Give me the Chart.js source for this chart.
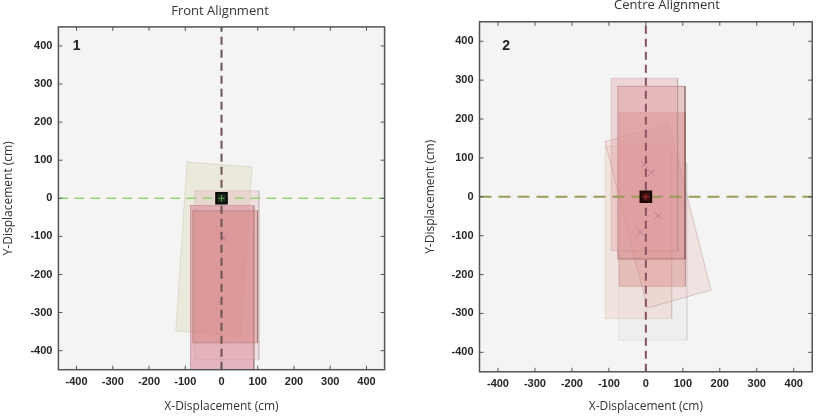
<!DOCTYPE html>
<html>
<head>
<meta charset="utf-8">
<script src="https://cdn.jsdelivr.net/npm/chart.js@4.4.1/dist/chart.umd.min.js"></script>
<style>
  html, body { margin: 0; padding: 0; background: #fff; }
  #wrap { position: relative; width: 825px; height: 416px; }
  canvas { position: absolute; top: 0; }
</style>
</head>
<body>
<div id="wrap">
  <canvas id="front" width="412" height="416" style="left:0"></canvas>
  <canvas id="centre" width="413" height="416" style="left:412px"></canvas>
</div>
<script>
const tickValues = [-400, -300, -200, -100, 0, 100, 200, 300, 400];
const axisMin = -450;
const axisMax = 450;

// footprints: centre x, centre y, width, length (cm), rotation (deg)
const frontRects = [
  [-21, -133, 180, 445, -4],
  [2, -260, 175, 482, 0],
  [15, -202, 177, 444, 0],
  [10, -206, 179, 347, 0]
];
const frontCentres = [[7, -105]];

const centreRects = [
  [19, -141, 184, 455, 0],
  [-20, -91, 180, 444, 0],
  [33, -49, 178, 443, 15],
  [17, -7, 180, 447, 0],
  [15, 62, 182, 444, 0],
  [-4, 83, 180, 444, 0]
];
const centreCentres = [[-4, 83], [15, 62], [33, -49], [-15, -91]];

// colours for each footprint, same order as above
const frontFills = ['rgba(218,214,170,0.33)', 'rgba(215,120,140,0.5)', 'rgba(225,170,175,0.3)', 'rgba(210,115,105,0.35)'];
const frontEdges = ['rgba(150,145,110,0.2)', 'rgba(110,60,60,0.3)', 'rgba(150,120,120,0.18)', 'rgba(110,60,60,0.25)'];
const centreFills = ['rgba(230,225,225,0.35)', 'rgba(235,195,180,0.32)', 'rgba(235,190,190,0.32)',
                     'rgba(212,130,125,0.38)', 'rgba(212,125,130,0.38)', 'rgba(225,160,165,0.38)'];
const centreEdges = ['rgba(170,160,160,0.2)', 'rgba(170,140,140,0.2)', 'rgba(160,120,120,0.35)',
                     'rgba(150,100,100,0.22)', 'rgba(100,55,55,0.4)', 'rgba(150,120,120,0.22)'];

function corners([cx, cy, w, h, deg]) {
  const t = deg * Math.PI / 180, c = Math.cos(t), s = Math.sin(t);
  const pts = [[-w / 2, h / 2], [w / 2, h / 2], [w / 2, -h / 2], [-w / 2, -h / 2], [-w / 2, h / 2]];
  return pts.map(([dx, dy]) => ({ x: cx + dx * c - dy * s, y: cy + dx * s + dy * c }));
}

const framePlugin = {
  id: 'frame',
  beforeDraw(chart) {
    const { ctx, chartArea: a } = chart;
    ctx.save();
    ctx.fillStyle = '#f4f4f4';
    ctx.fillRect(a.left, a.top, a.right - a.left, a.bottom - a.top);
    ctx.restore();
  },
  afterDraw(chart, args, opts) {
    const { ctx, chartArea: a, scales: { x, y } } = chart;
    ctx.save();
    ctx.strokeStyle = '#555';
    ctx.lineWidth = 1.5;
    ctx.strokeRect(a.left, a.top, a.right - a.left, a.bottom - a.top);
    ctx.lineWidth = 1;
    ctx.beginPath();
    tickValues.forEach(v => {
      const px = x.getPixelForValue(v), py = y.getPixelForValue(v);
      ctx.moveTo(px, a.bottom); ctx.lineTo(px, a.bottom - 4);
      ctx.moveTo(px, a.top); ctx.lineTo(px, a.top + 4);
      ctx.moveTo(a.left, py); ctx.lineTo(a.left + 4, py);
      ctx.moveTo(a.right, py); ctx.lineTo(a.right - 4, py);
    });
    ctx.stroke();

    ctx.fillStyle = '#222';
    ctx.font = 'bold 14px "Liberation Sans"';
    ctx.textAlign = 'center';
    ctx.textBaseline = 'middle';
    ctx.fillText(opts.tag, x.getPixelForValue(opts.tagAt[0]), y.getPixelForValue(opts.tagAt[1]));

    ctx.fillStyle = '#333';
    ctx.font = '13px "Open Sans"';
    ctx.textBaseline = 'alphabetic';
    ctx.fillText(opts.title, opts.titleX, opts.titleY);
    ctx.restore();
  }
};

function axis(title, size) {
  return {
    type: 'linear',
    min: axisMin,
    max: axisMax,
    afterBuildTicks: s => { s.ticks = tickValues.map(v => ({ value: v })); },
    afterFit: s => { if (s.isHorizontal()) s.height = size; else s.width = size; },
    grid: { display: false, drawTicks: false },
    border: { display: false },
    ticks: {
      padding: 6,
      maxRotation: 0,
      autoSkip: false,
      color: '#262626',
      font: { family: 'Liberation Sans', size: 11, weight: 'bold' }
    },
    title: {
      display: true,
      text: title,
      color: '#333',
      font: { family: 'Open Sans', size: 12 },
      padding: { top: 1, bottom: 2 }
    }
  };
}

function makePanel(id, p) {
  const datasets = p.rects.map((r, i) => ({
    data: corners(r),
    backgroundColor: p.fills[i],
    borderColor: p.edges[i],
    borderWidth: 1,
    fill: 'shape',
    pointRadius: 0,
    tension: 0,
    order: 100 - i
  }));
  datasets.push({
    data: [{ x: axisMin, y: 0 }, { x: axisMax, y: 0 }],
    borderColor: p.hColor, borderWidth: p.hWidth, borderDash: p.hDash,
    pointRadius: 0, fill: false, order: 3
  });
  datasets.push({
    data: [{ x: 0, y: axisMin }, { x: 0, y: axisMax }],
    borderColor: p.vColor, borderWidth: 2, borderDash: [8, 5],
    pointRadius: 0, fill: false, order: 2
  });
  datasets.push({
    data: p.centres.map(([x, y]) => ({ x, y })),
    showLine: false, pointStyle: 'crossRot', pointRadius: 5,
    borderColor: 'rgba(150,90,140,0.5)', borderWidth: 1, order: 1
  });
  datasets.push({
    data: [{ x: 0, y: 0 }],
    showLine: false, pointStyle: 'rect', pointRadius: 7.5,
    backgroundColor: p.sqFill, borderColor: p.sqEdge, borderWidth: 2, order: 0
  });
  datasets.push({
    data: [{ x: 0, y: 0 }],
    showLine: false, pointStyle: 'cross', pointRadius: 3,
    borderColor: p.sqCross, borderWidth: 1, order: -1
  });

  return new Chart(document.getElementById(id), {
    type: 'line',
    data: { datasets },
    options: {
      responsive: false,
      animation: false,
      events: [],
      layout: { padding: p.pad },
      plugins: {
        legend: { display: false },
        tooltip: { enabled: false },
        frame: { tag: p.tag, tagAt: p.tagAt, title: p.title, titleX: p.titleX, titleY: p.titleY }
      },
      scales: {
        x: axis('X-Displacement (cm)', p.xH),
        y: axis('Y-Displacement (cm)', p.yW)
      }
    },
    plugins: [framePlugin]
  });
}

makePanel('front', {
  rects: frontRects, fills: frontFills, edges: frontEdges, centres: frontCentres,
  hColor: '#95d474', hWidth: 1.5, hDash: [10, 6], vColor: '#6e5252',
  sqFill: '#1c2a1c', sqEdge: '#080808', sqCross: '#5fa04a',
  tag: '1', tagAt: [-400, 400], title: 'Front Alignment', titleX: 220, titleY: 15,
  pad: { left: 0, right: 27.4, top: 26.9, bottom: 0 }, yW: 58.4, xH: 46.3
});

makePanel('centre', {
  rects: centreRects, fills: centreFills, edges: centreEdges, centres: centreCentres,
  hColor: '#9c9a5a', hWidth: 2, hDash: [12, 7], vColor: '#8b5060',
  sqFill: '#3a1010', sqEdge: '#1a0505', sqCross: '#b03030',
  tag: '2', tagAt: [-378, 388], title: 'Centre Alignment', titleX: 255, titleY: 9,
  pad: { left: 10, right: 12.8, top: 21.8, bottom: 0 }, yW: 57.5, xH: 44.2
});
</script>
</body>
</html>
